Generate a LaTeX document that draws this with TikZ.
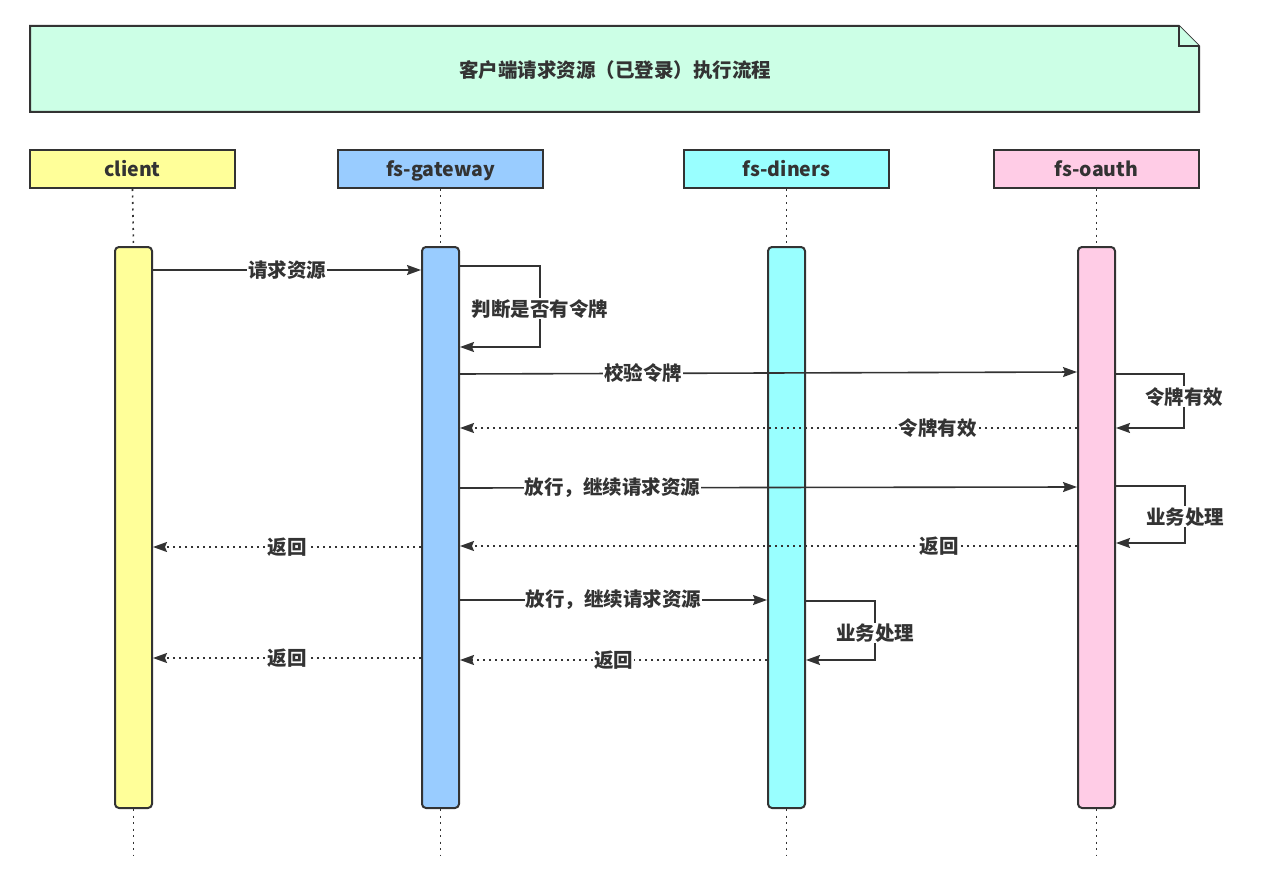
\documentclass[tikz,border=0pt]{standalone}
\usepackage{fontspec}
\newfontfamily\cjk{Noto Sans CJK SC}
\usetikzlibrary{arrows.meta}
\definecolor{ink}{HTML}{333333}
\definecolor{notefill}{HTML}{CCFFE6}
\definecolor{clfill}{HTML}{FFFF99}
\definecolor{gwfill}{HTML}{99CCFF}
\definecolor{dnfill}{HTML}{99FFFF}
\definecolor{oafill}{HTML}{FFCCE6}
\newcommand{\lblfont}{\cjk\bfseries\fontsize{19.5}{22}\selectfont}
\tikzset{
  head/.style={draw=ink, line width=2pt, minimum width=205pt, minimum height=38pt, inner sep=0pt, font=\lblfont, text=ink, text height=16pt, text depth=0pt},
  bar/.style={draw=ink, line width=2pt, rounded corners=4pt, minimum width=37pt, minimum height=561pt, inner sep=0pt},
  life/.style={draw=ink, line width=1.6pt, dash pattern=on 2pt off 4.5pt},
  msg/.style={draw=ink, line width=1.6pt, -{Stealth[length=14pt,width=10pt,inset=2pt]}},
  ret/.style={msg, dash pattern=on 2pt off 4pt},
  lbl/.style={fill=white, inner sep=1pt, text=ink, font=\lblfont},
}
\begin{document}
\begin{tikzpicture}[x=1pt,y=-1pt]
\useasboundingbox (0,0) rectangle (1267,872);
% title note
\draw[ink, line width=2pt, fill=notefill] (30,26) -- (1179,26) -- (1199,46) -- (1199,112) -- (30,112) -- cycle;
\draw[ink, line width=2pt, fill=notefill] (1179,26) -- (1179,46) -- (1199,46);
\node[text=ink, font=\lblfont] (title) at (615,70) {客户端请求资源（已登录）执行流程};
% headers
\node[head, fill=clfill] (hcl) at (132.5,169) {client};
\node[head, fill=gwfill] (hgw) at (440.5,169) {fs-gateway};
\node[head, fill=dnfill] (hdn) at (786.5,169) {fs-diners};
\node[head, fill=oafill] (hoa) at (1096.5,169) {fs-oauth};
% activation bars
\node[bar, fill=clfill] (cl) at (133.5,527.5) {};
\node[bar, fill=gwfill] (gw) at (440.5,527.5) {};
\node[bar, fill=dnfill] (dn) at (786.5,527.5) {};
\node[bar, fill=oafill] (oa) at (1096.5,527.5) {};
% lifelines
\foreach \h/\b in {hcl/cl, hgw/gw, hdn/dn, hoa/oa}{
  \draw[life] (\h.south) -- (\b.north);
}
\path (cl.south) ++(0,47) coordinate (clend);
\path (gw.south) ++(0,47) coordinate (gwend);
\path (dn.south) ++(0,47) coordinate (dnend);
\path (oa.south) ++(0,47) coordinate (oaend);
\draw[life] (cl.south) -- (clend);
\draw[life] (gw.south) -- (gwend);
\draw[life] (dn.south) -- (dnend);
\draw[life] (oa.south) -- (oaend);
% messages
\draw[msg] (cl.east |- 0,270) -- node[lbl]{请求资源} (gw.west |- 0,270);
\draw[msg] (gw.east |- 0,266) -- (540,266) -- node[lbl, pos=0.53]{判断是否有令牌} (540,347) -- (gw.east |- 0,347);
\draw[msg] (gw.east |- 0,374) -- node[lbl, pos=0.297]{校验令牌} (oa.west |- 0,372);
\draw[msg] (oa.east |- 0,374) -- (1184,374) -- node[lbl, pos=0.42]{令牌有效} (1184,428) -- (oa.east |- 0,428);
\draw[ret] (oa.west |- 0,428) -- node[lbl, pos=0.226]{令牌有效} (gw.east |- 0,428);
\draw[msg] (gw.east |- 0,488) -- node[lbl, pos=0.247]{放行，继续请求资源} (oa.west |- 0,487);
\draw[msg] (oa.east |- 0,486) -- (1185,486) -- node[lbl, pos=0.54]{业务处理} (1185,543) -- (oa.east |- 0,543);
\draw[ret] (oa.west |- 0,546) -- node[lbl, pos=0.223]{返回} (gw.east |- 0,546);
\draw[ret] (gw.west |- 0,547) -- node[lbl]{返回} (cl.east |- 0,547);
\draw[msg] (gw.east |- 0,600) -- node[lbl]{放行，继续请求资源} (dn.west |- 0,600);
\draw[msg] (dn.east |- 0,601) -- (875,601) -- node[lbl, pos=0.54]{业务处理} (875,660) -- (dn.east |- 0,660);
\draw[ret] (dn.west |- 0,660) -- node[lbl]{返回} (gw.east |- 0,660);
\draw[ret] (gw.west |- 0,658) -- node[lbl]{返回} (cl.east |- 0,658);
\end{tikzpicture}
\end{document}
